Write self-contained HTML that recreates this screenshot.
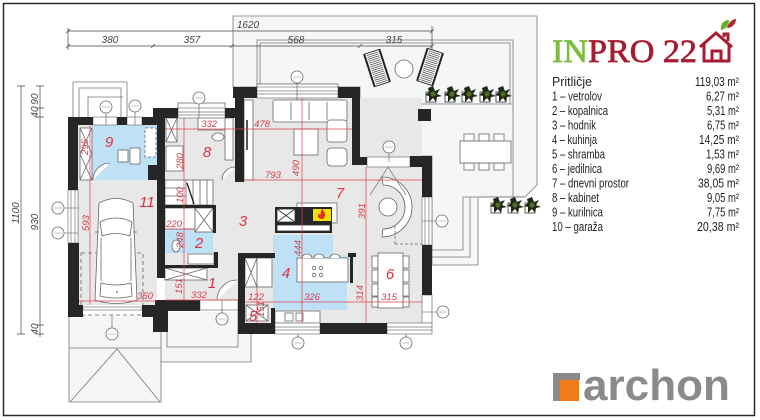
<!DOCTYPE html>
<html><head><meta charset="utf-8">
<style>html,body{margin:0;padding:0;background:#fff;overflow:hidden}svg{display:block}</style></head>
<body>
<svg width="760" height="420" viewBox="0 0 760 420" xmlns="http://www.w3.org/2000/svg">
<defs>
<g id="pl"><rect x="-7" y="-2" width="10" height="10" fill="#fff" stroke="#333" stroke-width="0.8"/><path d="M0,-8 L2,-3 L7,-5 L4,0 L9,2 L4,3 L3,8 L0,4 L-4,8 L-4,2 L-8,1 L-4,-2 L-5,-6 Z" fill="#1e2812"/><circle cx="0" cy="0" r="2.6" fill="#4c6e22"/></g>
<g id="wc"><circle r="6" fill="#fff" stroke="#666" stroke-width="0.8"/><line x1="-4" y1="0" x2="4" y2="0" stroke="#888" stroke-width="0.5"/></g>
<g id="ls"><rect x="-8" y="-17" width="16" height="34" fill="#fff" stroke="#333" stroke-width="1"/><path d="M-6,-15H6M-6,-13H6M-6,-11H6M-6,-9H6M-6,-7H6M-6,-5H6M-6,-3H6M-6,-1H6M-6,1H6M-6,3H6M-6,5H6M-6,7H6M-6,9H6M-6,11H6M-6,13H6M-6,15H6" stroke="#555" stroke-width="0.8"/><line x1="-8" y1="-17" x2="-8" y2="17" stroke="#222" stroke-width="2"/><line x1="8" y1="-17" x2="8" y2="17" stroke="#222" stroke-width="2"/></g>
</defs>
<rect x="0" y="0" width="760" height="420" fill="#fff"/>
<rect x="3.5" y="3.5" width="751" height="412" fill="none" stroke="#2a2a2a" stroke-width="1.5"/>

<!-- terrace -->
<polygon points="233,16 537,16 537,185 525,197 478,197 478,265 432,265 432,156 360,156 360,87 233,87" fill="#f5f6f8" stroke="#777" stroke-width="0.8"/>
<path d="M257,87V40H513V197M260,87V43H510V104M361,104H513M463,197V250H432M470,197V257H432M463,197H525" stroke="#777" fill="none" stroke-width="0.8"/>
<!-- entrance / driveway -->
<rect x="69" y="315" width="92" height="87" fill="#f5f6f8"/>
<rect x="161" y="312" width="90" height="50" fill="#f5f6f8"/>
<path d="M69,315V402H161V348H69M70,402L117,349L160,402M161,325V362H251V333H238M167,325V347H238V300" stroke="#777" fill="none" stroke-width="0.8"/>
<!-- flue outline -->
<path d="M73,117V82H127V117M79,117V88H121V117M88,117V97H123" stroke="#777" fill="none" stroke-width="0.8"/>

<!-- floors -->
<rect x="78" y="125" width="79" height="180" fill="#e8e8e8"/>
<rect x="165" y="108" width="80" height="192" fill="#e8e8e8"/>
<rect x="244" y="98" width="178" height="225" fill="#e8e8e8"/>
<rect x="238" y="253" width="40" height="70" fill="#e8e8e8"/>
<!-- blue -->
<rect x="92" y="125" width="65" height="55" fill="#bfe1f6"/>
<rect x="165" y="229" width="48" height="24" fill="#bfe1f6"/>
<polygon points="273,235 333,235 333,255 347,255 347,310 273,310" fill="#bfe1f6"/>

<!-- furniture -->
<g fill="#fff" stroke="#666" stroke-width="0.8">
<rect x="80" y="128" width="12" height="52"/>
<path d="M80,128L92,154M92,128L80,154M80,154L92,180M92,154L80,180"/>
<rect x="118" y="150" width="10" height="12"/><rect x="130" y="148" width="10" height="16"/>
<rect x="145" y="128" width="11" height="29" stroke-dasharray="3,2"/>
<path d="M93,180A17,17 0 0 1 110,163"/>
<rect x="166" y="118" width="11" height="24"/><path d="M166,118L177,142M177,118L166,142"/>
<rect x="166" y="146" width="17" height="25"/>
<rect x="198" y="118" width="34" height="12"/>
<rect x="225" y="118" width="8" height="42"/>
<ellipse cx="218" cy="137" rx="6" ry="4"/>
<path d="M222,180A13,13 0 0 1 235,167"/>
<rect x="178" y="103" width="47" height="6"/>
<rect x="165" y="180" width="48" height="25"/>
<path d="M186,180V205M193,180V205M200,180V205M207,180V205M165,188H186M165,196H186"/>
<rect x="165" y="208" width="30" height="21"/>
<rect x="195" y="208" width="18" height="24"/><path d="M195,208L213,232M213,208L195,232"/>
<ellipse cx="176" cy="246" rx="4" ry="6"/>
<rect x="188" y="254" width="26" height="10"/>
<rect x="165" y="268" width="42" height="12"/><path d="M165,268L207,280M207,268L165,280"/>
<path d="M217,300A20,20 0 0 1 237,280"/>
<rect x="245" y="258" width="12" height="29"/><path d="M245,258L257,287M257,258L245,287"/>
<rect x="257" y="258" width="15" height="29"/>
<rect x="246" y="305" width="22" height="16"/><path d="M246,305L268,321M268,305L246,321"/>
<rect x="244" y="100" width="9" height="80"/>
<rect x="273" y="100" width="74" height="22" rx="2"/>
<path d="M291,102V120M309,102V120M327,102V120"/>
<rect x="327" y="120" width="20" height="22" rx="3"/>
<rect x="294" y="129" width="24" height="26"/>
<rect x="327" y="148" width="20" height="18" rx="4"/>
<rect x="257" y="84" width="81" height="5"/>
<rect x="297" y="203" width="40" height="20"/>
<rect x="297" y="258" width="51" height="24"/>
<circle cx="314" cy="268" r="1.8"/><circle cx="321" cy="268" r="1.8"/><circle cx="314" cy="275" r="1.8"/><circle cx="321" cy="275" r="1.8"/>
<path d="M302,258A5,4 0 0 1 312,258M314,258A5,4 0 0 1 324,258M330,258A5,4 0 0 1 340,258"/>
<rect x="275" y="311" width="45" height="12"/>
<rect x="285" y="313" width="8" height="8"/><rect x="296" y="313" width="7" height="8"/>
<path d="M382,177A30,30 0 0 1 382,237L383,229A22,22 0 0 0 383,185Z"/>
<circle cx="388" cy="207" r="9"/>
<path d="M395,244H422M395,244V225" stroke-dasharray="3,2" fill="none"/>
<rect x="372" y="256" width="6" height="12"/><rect x="372" y="270" width="6" height="12"/><rect x="372" y="284" width="6" height="12"/><rect x="372" y="297" width="6" height="10"/>
<rect x="403" y="256" width="6" height="12"/><rect x="403" y="270" width="6" height="12"/><rect x="403" y="284" width="6" height="12"/><rect x="403" y="297" width="6" height="10"/>
<rect x="378" y="253" width="25" height="55"/>
<rect x="464" y="134" width="10" height="7"/><rect x="479" y="134" width="10" height="7"/><rect x="494" y="134" width="10" height="7"/>
<rect x="464" y="163" width="10" height="7"/><rect x="479" y="163" width="10" height="7"/><rect x="494" y="163" width="10" height="7"/>
<rect x="460" y="141" width="51" height="22"/>
<circle cx="404" cy="69" r="9"/>
<rect x="81" y="253" width="62" height="62" fill="none" stroke-dasharray="4,3"/>
<path d="M99,203Q116,194 133,203L137,300Q116,307 95,300Z"/>
<path d="M100,222Q116,214 132,222L130,236Q116,231 102,236Z"/>
<path d="M101,283Q116,287 131,283L132,296Q116,300 100,296Z"/>
<path d="M101,238V281M131,238V281M95,232H99M133,232H137"/>
</g>
<circle cx="117" cy="292" r="0.8" fill="#333"/>
<rect x="246" y="120" width="2" height="30" fill="#555"/>

<!-- windows -->
<g fill="#fff" stroke="#777" stroke-width="0.7">
<rect x="68" y="190" width="10" height="53"/><path d="M71,190V243M75,190V243"/>
<rect x="93" y="117" width="24" height="8"/><rect x="127" y="117" width="15" height="8"/>
<rect x="178" y="108" width="47" height="10"/><path d="M178,112H225M178,115H225"/>
<rect x="257" y="87" width="81" height="11"/><path d="M257,91H338M257,94H338"/>
<rect x="367" y="157" width="43" height="10"/><path d="M388,167L370,195M388,167L406,195"/>
<rect x="422" y="197" width="10" height="48"/><path d="M425,197V245M429,197V245"/>
<rect x="422" y="295" width="10" height="28"/>
<rect x="275" y="323" width="45" height="11"/><path d="M275,327H320M275,330H320"/>
<rect x="387" y="323" width="45" height="11"/><path d="M387,327H432M387,330H432"/>
<rect x="200" y="300" width="38" height="10"/>
<rect x="83" y="307" width="59" height="3"/>
</g>

<!-- walls -->
<g fill="#262626">
<rect x="68" y="117" width="10" height="73"/>
<rect x="68" y="243" width="11" height="72"/>
<rect x="68" y="117" width="25" height="8"/>
<rect x="117" y="117" width="10" height="8"/>
<rect x="142" y="117" width="15" height="8"/>
<rect x="153" y="108" width="25" height="10"/>
<rect x="157" y="108" width="8" height="170"/>
<rect x="148" y="165" width="9" height="15"/>
<rect x="68" y="305" width="15" height="12"/>
<rect x="142" y="305" width="15" height="12"/>
<rect x="155" y="300" width="45" height="11"/>
<rect x="153" y="310" width="15" height="22"/>
<rect x="225" y="108" width="18" height="10"/>
<rect x="235" y="87" width="9" height="95"/>
<rect x="233" y="87" width="24" height="11"/>
<rect x="338" y="87" width="22" height="11"/>
<rect x="352" y="87" width="8" height="78"/>
<rect x="352" y="157" width="15" height="8"/>
<rect x="410" y="156" width="22" height="11"/>
<rect x="422" y="156" width="10" height="41"/>
<rect x="422" y="245" width="10" height="50"/>
<rect x="238" y="323" width="37" height="11"/>
<rect x="320" y="323" width="67" height="11"/>
<rect x="238" y="253" width="7" height="81"/>
<rect x="238" y="253" width="37" height="5"/>
<rect x="271" y="308" width="4" height="26"/>
<rect x="165" y="205" width="50" height="3"/>
<rect x="213" y="205" width="3" height="28"/>
<rect x="214" y="252" width="4" height="16"/>
<rect x="165" y="265" width="53" height="3"/>
<rect x="418" y="109" width="13" height="12"/>
<rect x="275" y="207" width="57" height="26"/>
<rect x="348" y="253" width="8" height="4"/>
<rect x="350" y="253" width="3" height="30"/>
</g>
<g stroke="#333" stroke-width="0.8" fill="#fff">
<rect x="277" y="209" width="18" height="13"/><path d="M277,209L295,222M295,209L277,222"/>
<rect x="277" y="225" width="53" height="6"/>
</g>
<rect x="313" y="209" width="18" height="12" fill="#f3e000"/>
<path d="M322,219c-4,0 -5,-3 -3,-6c0,2 1,2 2,1c-1,-2 0,-4 2,-5c0,2 2,3 2,5c0,3 -1,5 -3,5z" fill="#e0301e"/>
<path d="M187,183L194,204" stroke="#111" stroke-width="1.2"/>

<!-- window labels -->
<use href="#wc" x="106" y="107"/><use href="#wc" x="135" y="106"/><use href="#wc" x="199" y="98"/>
<use href="#wc" x="297" y="77"/><use href="#wc" x="389" y="147"/><use href="#wc" x="442" y="221"/>
<use href="#wc" x="443" y="312"/><use href="#wc" x="298" y="343"/><use href="#wc" x="406" y="343"/>
<use href="#wc" x="58" y="208"/><use href="#wc" x="58" y="233"/><use href="#wc" x="112" y="334"/><use href="#wc" x="222" y="319"/>
<path d="M106,113V125M135,112V125M199,104V118M297,83V100M389,153V162M436,221H422M437,312H422M298,337V334M406,337V334M64,208H78M64,233H78M112,328V315M222,313V300" stroke="#555" stroke-width="0.6"/>

<!-- plants, loungers -->
<use href="#pl" x="433" y="94"/><use href="#pl" x="452" y="94"/><use href="#pl" x="469" y="94"/><use href="#pl" x="487" y="94"/><use href="#pl" x="503" y="94"/>
<use href="#pl" x="498" y="205"/><use href="#pl" x="515" y="205"/><use href="#pl" x="532" y="205"/>
<use href="#ls" transform="translate(377,68) rotate(-18)"/>
<use href="#ls" transform="translate(430,67) rotate(18)"/>

<!-- red dimensions -->
<g stroke="#e0424f" stroke-width="0.7" fill="none">
<path d="M90,125V305M79,301H157M165,300H238M184,118V300M165,229H195M165,129H352M244,180H422M302,98V323M366,167V323M245,302H422M257,287V323"/>
</g>
<g font-family="Liberation Sans, sans-serif" font-style="italic" font-size="9.5" fill="#d83a48" text-anchor="middle">
<text x="145" y="299">350</text>
<text x="199" y="298">332</text>
<text x="174" y="227">220</text>
<text x="209" y="127">332</text>
<text x="262" y="127">478</text>
<text x="273" y="178">793</text>
<text x="256" y="300">122</text>
<text x="312" y="300">326</text>
<text x="389" y="300">315</text>
<text transform="rotate(-90 85 147)" x="85" y="150">295</text>
<text transform="rotate(-90 86 223)" x="86" y="226">593</text>
<text transform="rotate(-90 180 195)" x="180" y="198">100</text>
<text transform="rotate(-90 180 240)" x="180" y="243">248</text>
<text transform="rotate(-90 179 286)" x="179" y="289">151</text>
<text transform="rotate(-90 180 161)" x="180" y="164">280</text>
<text transform="rotate(-90 296 168)" x="296" y="171">490</text>
<text transform="rotate(-90 298 248)" x="298" y="251">444</text>
<text transform="rotate(-90 362 211)" x="362" y="214">391</text>
<text transform="rotate(-90 360 293)" x="360" y="296">314</text>
<text transform="rotate(-90 261 309)" x="261" y="312">151</text>
</g>
<g font-family="Liberation Sans, sans-serif" font-style="italic" font-size="15" fill="#e02f3d" text-anchor="middle">
<text x="109" y="147">9</text><text x="207" y="157">8</text><text x="147" y="207">11</text>
<text x="243" y="226">3</text><text x="340" y="198">7</text><text x="199" y="248">2</text>
<text x="212" y="288">1</text><text x="286" y="278">4</text><text x="253" y="321">5</text><text x="390" y="279">6</text>
</g>

<!-- outer dimension lines -->
<g stroke="#444" stroke-width="0.7" fill="none">
<path d="M68,31H432M68,46H432M21,86V334M40,86V337"/>
<path d="M66,33L70,29M430,33L434,29M66,48L70,44M151,48L155,44M230,48L234,44M358,48L362,44M430,48L434,44"/>
<path d="M17,86H25M17,334H25M36,86H44M36,108H44M36,117H44M36,325H44M36,334H44"/>
<path d="M68,28V50M432,26V50"/>
</g>
<g font-family="Liberation Sans, sans-serif" font-style="italic" font-size="10" fill="#444" text-anchor="middle">
<text x="248" y="28">1620</text>
<text x="110" y="43">380</text><text x="192" y="43">357</text><text x="296" y="43">568</text><text x="394" y="43">315</text>
<text transform="rotate(-90 16 213)" x="16" y="216">1100</text>
<text transform="rotate(-90 35 222)" x="35" y="225">930</text>
<text transform="rotate(-90 35 99)" x="35" y="102">90</text>
<text transform="rotate(-90 35 112)" x="35" y="115">40</text>
<text transform="rotate(-90 35 329)" x="35" y="332">40</text>
</g>

<!-- INPRO logo -->
<text x="552" y="62" font-family="Liberation Serif, serif" font-size="33" stroke-width="0.7" textLength="145" lengthAdjust="spacingAndGlyphs"><tspan fill="#7cbc3c" stroke="#7cbc3c">IN</tspan><tspan fill="#a61d31" stroke="#a61d31">PRO 22</tspan></text>
<path d="M700,47L716,33L732,47M704,44V61H729V44M712,61V51H721V61M724,37V34H728V41" stroke="#a61d31" stroke-width="3" fill="none" stroke-linejoin="miter"/>
<path d="M721,30C720,24 724,20 729,20C729,25 726,29 721,30Z" fill="#6cae2f"/>
<path d="M727,28C728,23 732,19 736,19C736,24 732,28 727,28Z" fill="#b5262f"/>

<!-- legend -->
<g font-family="Liberation Sans, sans-serif" font-size="12.5" fill="#222">
<text x="552" y="86" textLength="40" lengthAdjust="spacingAndGlyphs">Pritličje</text>
<text x="552" y="100.5" textLength="50" lengthAdjust="spacingAndGlyphs">1 – vetrolov</text>
<text x="552" y="115" textLength="56" lengthAdjust="spacingAndGlyphs">2 – kopalnica</text>
<text x="552" y="129.5" textLength="44" lengthAdjust="spacingAndGlyphs">3 – hodnik</text>
<text x="552" y="144" textLength="45" lengthAdjust="spacingAndGlyphs">4 – kuhinja</text>
<text x="552" y="158.5" textLength="53" lengthAdjust="spacingAndGlyphs">5 – shramba</text>
<text x="552" y="173" textLength="50" lengthAdjust="spacingAndGlyphs">6 – jedilnica</text>
<text x="552" y="187.5" textLength="77" lengthAdjust="spacingAndGlyphs">7 – dnevni prostor</text>
<text x="552" y="202" textLength="47" lengthAdjust="spacingAndGlyphs">8 – kabinet</text>
<text x="552" y="216.5" textLength="51" lengthAdjust="spacingAndGlyphs">9 – kurilnica</text>
<text x="552" y="231" textLength="51" lengthAdjust="spacingAndGlyphs">10 – garaža</text>
<text x="695" y="86" textLength="44" lengthAdjust="spacingAndGlyphs">119,03 m²</text>
<text x="706" y="100.5" textLength="33" lengthAdjust="spacingAndGlyphs">6,27 m²</text>
<text x="707" y="115" textLength="32" lengthAdjust="spacingAndGlyphs">5,31 m²</text>
<text x="707" y="129.5" textLength="32" lengthAdjust="spacingAndGlyphs">6,75 m²</text>
<text x="699" y="144" textLength="40" lengthAdjust="spacingAndGlyphs">14,25 m²</text>
<text x="706" y="158.5" textLength="33" lengthAdjust="spacingAndGlyphs">1,53 m²</text>
<text x="707" y="173" textLength="32" lengthAdjust="spacingAndGlyphs">9,69 m²</text>
<text x="698" y="187.5" textLength="41" lengthAdjust="spacingAndGlyphs">38,05 m²</text>
<text x="707" y="202" textLength="32" lengthAdjust="spacingAndGlyphs">9,05 m²</text>
<text x="707" y="216.5" textLength="32" lengthAdjust="spacingAndGlyphs">7,75 m²</text>
<text x="697" y="231" textLength="42" lengthAdjust="spacingAndGlyphs">20,38 m²</text>
</g>

<!-- archon logo -->
<rect x="553" y="373" width="27" height="7" fill="#8a8a8a"/>
<rect x="553" y="373" width="7" height="28" fill="#8a8a8a"/>
<rect x="560" y="380" width="19" height="21" fill="#f07d1a"/>
<text x="583" y="400" font-family="Liberation Sans, sans-serif" font-weight="bold" font-size="44" fill="#8a8a8a" textLength="147" lengthAdjust="spacingAndGlyphs">archon</text>
</svg>
</body></html>
